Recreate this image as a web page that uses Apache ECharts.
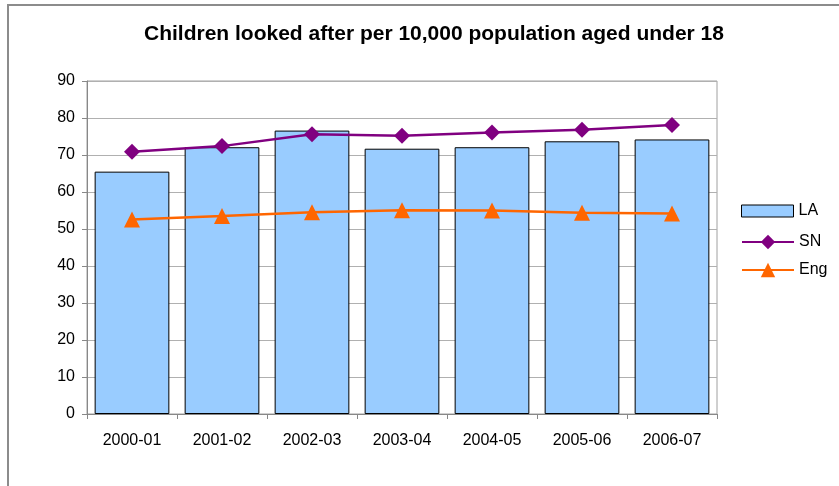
<!DOCTYPE html>
<html>
<head>
<meta charset="utf-8">
<script src="https://cdn.jsdelivr.net/npm/echarts@6/dist/echarts.min.js"></script>
<style>
html,body{margin:0;padding:0;background:#fff;}
#c{width:839px;height:486px;}
</style>
</head>
<body>
<div id="c"></div>
<script>
const categories = ['2000-01','2001-02','2002-03','2003-04','2004-05','2005-06','2006-07'];
const laValues = [65.5, 72.1, 76.6, 71.7, 72.1, 73.7, 74.2];
const snValues = [70.9, 72.4, 75.6, 75.2, 76.1, 76.8, 78.1];
const engValues = [52.6, 53.5, 54.5, 55.1, 55.0, 54.4, 54.2];
const yTicks = {min: 0, max: 90, interval: 10};

const FONT = 'Liberation Sans, Arial';
const chart = echarts.init(document.getElementById('c'), null, {renderer: 'canvas'});
chart.setOption({
  backgroundColor: '#ffffff',
  animation: false,
  graphic: [{
    type: 'rect',
    shape: {x: 8, y: 5, width: 900, height: 600},
    style: {fill: 'none', stroke: '#8c8c8c', lineWidth: 2},
    silent: true, z: -1
  }],
  title: {
    text: 'Children looked after per 10,000 population aged under 18',
    left: 429, top: 19, textAlign: 'center',
    textStyle: {fontFamily: FONT, fontSize: 21, fontWeight: 'bold', color: '#000'}
  },
  grid: {left: 87, right: 122, top: 81, bottom: 72, show: true, borderColor: '#a0a0a0', borderWidth: 1, backgroundColor: '#fff'},
  legend: [{
    orient: 'vertical', left: 736, top: 198,
    itemWidth: 52, itemHeight: 12, itemGap: 14,
    icon: 'rect',
    itemStyle: {borderWidth: 1, borderColor: '#000'},
    textStyle: {fontFamily: FONT, fontSize: 16, color: '#000'},
    data: ['LA']
  }, {
    orient: 'vertical', left: 736, top: 229,
    itemWidth: 52, itemHeight: 18, itemGap: 12,
    textStyle: {fontFamily: FONT, fontSize: 16, color: '#000'},
    data: ['SN', 'Eng']
  }],
  xAxis: {
    type: 'category', data: categories,
    axisLine: {lineStyle: {color: '#888', width: 1}},
    axisTick: {show: true, alignWithLabel: false, length: 5, lineStyle: {color: '#888'}},
    axisLabel: {margin: 19, fontFamily: FONT, fontSize: 16, color: '#000'}
  },
  yAxis: {
    type: 'value', min: yTicks.min, max: yTicks.max, interval: yTicks.interval,
    axisLine: {show: true, lineStyle: {color: '#888', width: 1}},
    axisTick: {show: true, length: 5, lineStyle: {color: '#888'}},
    splitLine: {lineStyle: {color: '#b0b0b0', width: 1}},
    axisLabel: {margin: 12, fontFamily: FONT, fontSize: 16, color: '#000'}
  },
  series: [
    {
      name: 'LA', type: 'bar', data: laValues, barCategoryGap: '17%',
      itemStyle: {color: '#99ccff', borderColor: '#000', borderWidth: 1}
    },
    {
      name: 'SN', type: 'line', data: snValues,
      symbol: 'diamond', symbolSize: 16,
      lineStyle: {color: '#800080', width: 2.5},
      itemStyle: {color: '#800080'}, z: 3
    },
    {
      name: 'Eng', type: 'line', data: engValues,
      symbol: 'triangle', symbolSize: 16,
      lineStyle: {color: '#ff6600', width: 2.5},
      itemStyle: {color: '#ff6600'}, z: 4
    }
  ]
});
</script>
</body>
</html>
